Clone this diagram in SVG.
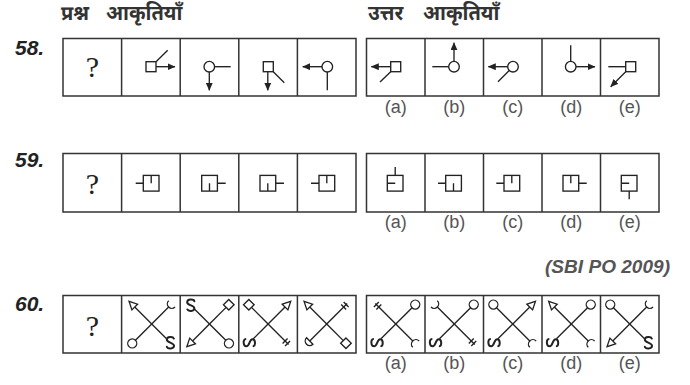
<svg xmlns="http://www.w3.org/2000/svg" xmlns:xlink="http://www.w3.org/1999/xlink" width="690" height="385" viewBox="0 0 690 385">
<style>
.box{fill:none;stroke:#333;stroke-width:1.5}
.f{fill:none;stroke:#222;stroke-width:1.35}
.fw{fill:#fff;stroke:#222;stroke-width:1.35}
.s{fill:none;stroke:#222;stroke-width:2;stroke-linecap:round}
.q{font-family:"Liberation Serif",serif;font-size:30px;fill:#222;text-anchor:middle}
.lab{font-family:"Liberation Sans",Arial,sans-serif;font-size:18px;fill:#555;text-anchor:middle}
.num{font-family:"Liberation Sans",Arial,sans-serif;font-size:21px;font-weight:bold;font-style:italic;fill:#222}
.hd{font-family:"Noto Sans Devanagari","Lohit Devanagari","Noto Sans",sans-serif;font-size:20px;font-weight:bold;fill:#333}
.src{font-family:"Liberation Sans",Arial,sans-serif;font-size:18px;font-weight:bold;font-style:italic;fill:#555}
</style>
<defs>
<marker id="ah" markerUnits="userSpaceOnUse" markerWidth="8" markerHeight="7" refX="7.5" refY="3.5" orient="auto">
<path d="M0,0 L8,3.5 L0,7 z" fill="#222"/>
</marker>
<g id="aCircle"><line class="f" x1="0" y1="0" x2="23" y2="0"/><circle class="fw" cx="27.5" cy="0" r="4.5"/></g>
<g id="aTri"><line class="f" x1="0" y1="0" x2="24" y2="0"/><path class="fw" d="M24,-4 L32,0 L24,4 Z"/></g>
<g id="aDia"><line class="f" x1="0" y1="0" x2="23.5" y2="0"/><rect class="fw" x="23.5" y="-3.75" width="7.5" height="7.5"/></g>
<g id="aCup"><line class="f" x1="0" y1="0" x2="24" y2="0"/><path class="f" d="M28.5,-4.5 A4.5,4.5 0 0 0 28.5,4.5"/></g>
<g id="aTick"><line class="f" x1="0" y1="0" x2="29" y2="0"/><path class="f" d="M24,-3.5 L24,3.5 M27.5,-3.5 L27.5,3.5"/></g>
<g id="aHalf"><line class="f" x1="0" y1="0" x2="24" y2="0"/><path class="fw" d="M24,-4.5 A4.5,4.5 0 0 1 24,4.5 Z"/></g>
<g id="aS"><line class="f" x1="0" y1="0" x2="21" y2="0"/><g transform="translate(26.5,0) rotate(-45)"><path class="s" d="M3.4,-4.2 C2.6,-6.2 -3.6,-6.4 -3.6,-3 C-3.6,0 3.6,-0.3 3.6,3 C3.6,6.4 -2.9,6.4 -3.6,4"/></g></g>
</defs>

<g id="headings">
<text class="hd" x="61" y="20">प्रश्न</text>
<text class="hd" x="106" y="20">आकृतियाँ</text>
<text class="hd" x="368" y="20">उत्तर</text>
<text class="hd" x="423" y="20">आकृतियाँ</text>
</g>

<!-- Row 58 -->
<g id="q58">
<text class="num" x="15" y="55">58.</text>
<g id="q58-problem">
<rect class="box" x="63" y="38.5" width="293" height="57.5"/>
<path class="box" d="M121.6,38.5V96 M180.2,38.5V96 M238.8,38.5V96 M297.4,38.5V96"/>
<text class="q" x="92.3" y="77">?</text>
<g id="q58-p2"><rect class="f" x="146" y="61.7" width="10" height="10"/><line class="f" x1="156" y1="61.7" x2="167.7" y2="50.3"/><line class="f" x1="156" y1="66.7" x2="175" y2="66.7" marker-end="url(#ah)"/></g>
<g id="q58-p3"><circle class="f" cx="209.3" cy="66.7" r="5.3"/><line class="f" x1="214.6" y1="66.7" x2="230.7" y2="66.7"/><line class="f" x1="209.3" y1="72" x2="209.3" y2="90.3" marker-end="url(#ah)"/></g>
<g id="q58-p4"><rect class="f" x="263.3" y="61.7" width="10" height="10"/><line class="f" x1="267.8" y1="71.7" x2="267.8" y2="90.3" marker-end="url(#ah)"/><line class="f" x1="273.3" y1="71.7" x2="284.3" y2="82.7"/></g>
<g id="q58-p5"><circle class="f" cx="327.3" cy="66.7" r="5.3"/><line class="f" x1="322" y1="66.7" x2="302.7" y2="66.7" marker-end="url(#ah)"/><line class="f" x1="327.3" y1="72" x2="327.3" y2="90.3"/></g>
</g>
<g id="q58-answers">
<rect class="box" x="366.5" y="38.5" width="292.5" height="57.5"/>
<path class="box" d="M425,38.5V96 M483.5,38.5V96 M542,38.5V96 M600.5,38.5V96"/>
<g id="q58-a"><rect class="f" x="390.7" y="61.7" width="10" height="10"/><line class="f" x1="390.7" y1="66.7" x2="371.3" y2="66.7" marker-end="url(#ah)"/><line class="f" x1="390.7" y1="71.7" x2="380" y2="82"/></g>
<g id="q58-b"><circle class="f" cx="454" cy="66.7" r="5.3"/><line class="f" x1="432.3" y1="66.7" x2="448.7" y2="66.7"/><line class="f" x1="454" y1="61.4" x2="454" y2="42.7" marker-end="url(#ah)"/></g>
<g id="q58-c"><circle class="f" cx="513" cy="66.7" r="5.3"/><line class="f" x1="507.7" y1="66.7" x2="488.3" y2="66.7" marker-end="url(#ah)"/><line class="f" x1="509.2" y1="70.5" x2="498" y2="81.7"/></g>
<g id="q58-d"><circle class="f" cx="570.7" cy="66.7" r="5.3"/><line class="f" x1="570.7" y1="61.4" x2="570.7" y2="45.3"/><line class="f" x1="576" y1="66.7" x2="595" y2="66.7" marker-end="url(#ah)"/></g>
<g id="q58-e"><rect class="f" x="625.7" y="61.7" width="10" height="10"/><line class="f" x1="608.3" y1="66.7" x2="625.7" y2="66.7"/><line class="f" x1="625.7" y1="71.7" x2="610.7" y2="86.7" marker-end="url(#ah)"/></g>
<text class="lab" x="395.8" y="113">(a)</text><text class="lab" x="454.3" y="113">(b)</text><text class="lab" x="512.8" y="113">(c)</text><text class="lab" x="571.3" y="113">(d)</text><text class="lab" x="629.7" y="113">(e)</text>
</g>
</g>

<!-- Row 59 -->
<g id="q59">
<text class="num" x="15" y="167">59.</text>
<g id="q59-problem">
<rect class="box" x="63" y="153.5" width="293" height="58.5"/>
<path class="box" d="M121.6,153.5V212 M180.2,153.5V212 M238.8,153.5V212 M297.4,153.5V212"/>
<text class="q" x="92.3" y="194">?</text>
<g id="q59-p2"><rect class="f" x="143.3" y="175.4" width="15.7" height="15.7"/><path class="f" d="M135.7,183.2H143.3 M151.2,175.4V183.2"/></g>
<g id="q59-p3"><rect class="f" x="201.7" y="175.4" width="15.7" height="15.7"/><path class="f" d="M217.4,183.2H225.7 M209.5,191.1V183.2"/></g>
<g id="q59-p4"><rect class="f" x="260" y="175.4" width="15.7" height="15.7"/><path class="f" d="M275.7,183.2H284 M267.8,191.1V183.2"/></g>
<g id="q59-p5"><rect class="f" x="319" y="175.4" width="15.7" height="15.7"/><path class="f" d="M311,183.2H319 M326.8,175.4V183.2"/></g>
</g>
<g id="q59-answers">
<rect class="box" x="366.5" y="153.5" width="292.5" height="58.5"/>
<path class="box" d="M425,153.5V212 M483.5,153.5V212 M542,153.5V212 M600.5,153.5V212"/>
<g id="q59-a"><rect class="f" x="387.3" y="175.4" width="15.7" height="15.7"/><path class="f" d="M395.2,167V175.4 M387.3,183.2H395.2"/></g>
<g id="q59-b"><rect class="f" x="445.7" y="175.4" width="15.7" height="15.7"/><path class="f" d="M438,183.2H445.7 M453.5,191.1V183.2"/></g>
<g id="q59-c"><rect class="f" x="504" y="175.4" width="15.7" height="15.7"/><path class="f" d="M496.3,183.2H504 M511.8,175.4V183.2"/></g>
<g id="q59-d"><rect class="f" x="563" y="175.4" width="15.7" height="15.7"/><path class="f" d="M578.7,183.2H586.7 M570.8,175.4V183.2"/></g>
<g id="q59-e"><rect class="f" x="621.3" y="175.4" width="15.7" height="15.7"/><path class="f" d="M621.3,183.2H629.2 M629.2,191.1V199.3"/></g>
<text class="lab" x="395.8" y="228">(a)</text><text class="lab" x="454.3" y="228">(b)</text><text class="lab" x="512.8" y="228">(c)</text><text class="lab" x="571.3" y="228">(d)</text><text class="lab" x="629.7" y="228">(e)</text>
</g>
</g>

<text class="src" x="545" y="273" textLength="125" lengthAdjust="spacingAndGlyphs">(SBI PO 2009)</text>

<!-- Row 60 -->
<g id="q60">
<text class="num" x="15" y="311">60.</text>
<g id="q60-problem">
<rect class="box" x="63" y="295.5" width="293" height="57.5"/>
<path class="box" d="M121.6,295.5V353 M180.2,295.5V353 M238.8,295.5V353 M297.4,295.5V353"/>
<text class="q" x="92.3" y="336">?</text>
<g id="q60-p2" transform="translate(151.7,324)"><use href="#aTri" transform="rotate(225)"/><use href="#aCup" transform="rotate(-45)"/><use href="#aCircle" transform="rotate(135)"/><use href="#aS" transform="rotate(45)"/></g>
<g id="q60-p3" transform="translate(209.5,324)"><use href="#aS" transform="rotate(225)"/><use href="#aDia" transform="rotate(-45)"/><use href="#aTri" transform="rotate(135)"/><use href="#aCircle" transform="rotate(45)"/></g>
<g id="q60-p4" transform="translate(268.1,324)"><use href="#aDia" transform="rotate(225)"/><use href="#aTri" transform="rotate(-45)"/><use href="#aS" transform="rotate(135)"/><use href="#aTick" transform="rotate(45)"/></g>
<g id="q60-p5" transform="translate(326.7,324)"><use href="#aTri" transform="rotate(225)"/><use href="#aTick" transform="rotate(-45)"/><use href="#aHalf" transform="rotate(135)"/><use href="#aDia" transform="rotate(45)"/></g>
</g>
<g id="q60-answers">
<rect class="box" x="366.5" y="295.5" width="292.5" height="57.5"/>
<path class="box" d="M425,295.5V353 M483.5,295.5V353 M542,295.5V353 M600.5,295.5V353"/>
<g id="q60-a" transform="translate(395.8,324)"><use href="#aTick" transform="rotate(225)"/><use href="#aCircle" transform="rotate(-45)"/><use href="#aS" transform="rotate(135)"/><use href="#aCup" transform="rotate(45)"/></g>
<g id="q60-b" transform="translate(454.3,324)"><use href="#aCup" transform="rotate(225)"/><use href="#aCircle" transform="rotate(-45)"/><use href="#aS" transform="rotate(135)"/><use href="#aTick" transform="rotate(45)"/></g>
<g id="q60-c" transform="translate(512.8,324)"><use href="#aCircle" transform="rotate(225)"/><use href="#aTri" transform="rotate(-45)"/><use href="#aS" transform="rotate(135)"/><use href="#aCup" transform="rotate(45)"/></g>
<g id="q60-d" transform="translate(571.3,324)"><use href="#aTri" transform="rotate(225)"/><use href="#aCircle" transform="rotate(-45)"/><use href="#aS" transform="rotate(135)"/><use href="#aCup" transform="rotate(45)"/></g>
<g id="q60-e" transform="translate(629.7,324)"><use href="#aCircle" transform="rotate(225)"/><use href="#aCup" transform="rotate(-45)"/><use href="#aTri" transform="rotate(135)"/><use href="#aS" transform="rotate(45)"/></g>
<text class="lab" x="395.8" y="369">(a)</text><text class="lab" x="454.3" y="369">(b)</text><text class="lab" x="512.8" y="369">(c)</text><text class="lab" x="571.3" y="369">(d)</text><text class="lab" x="629.7" y="369">(e)</text>
</g>
</g>
</svg>
